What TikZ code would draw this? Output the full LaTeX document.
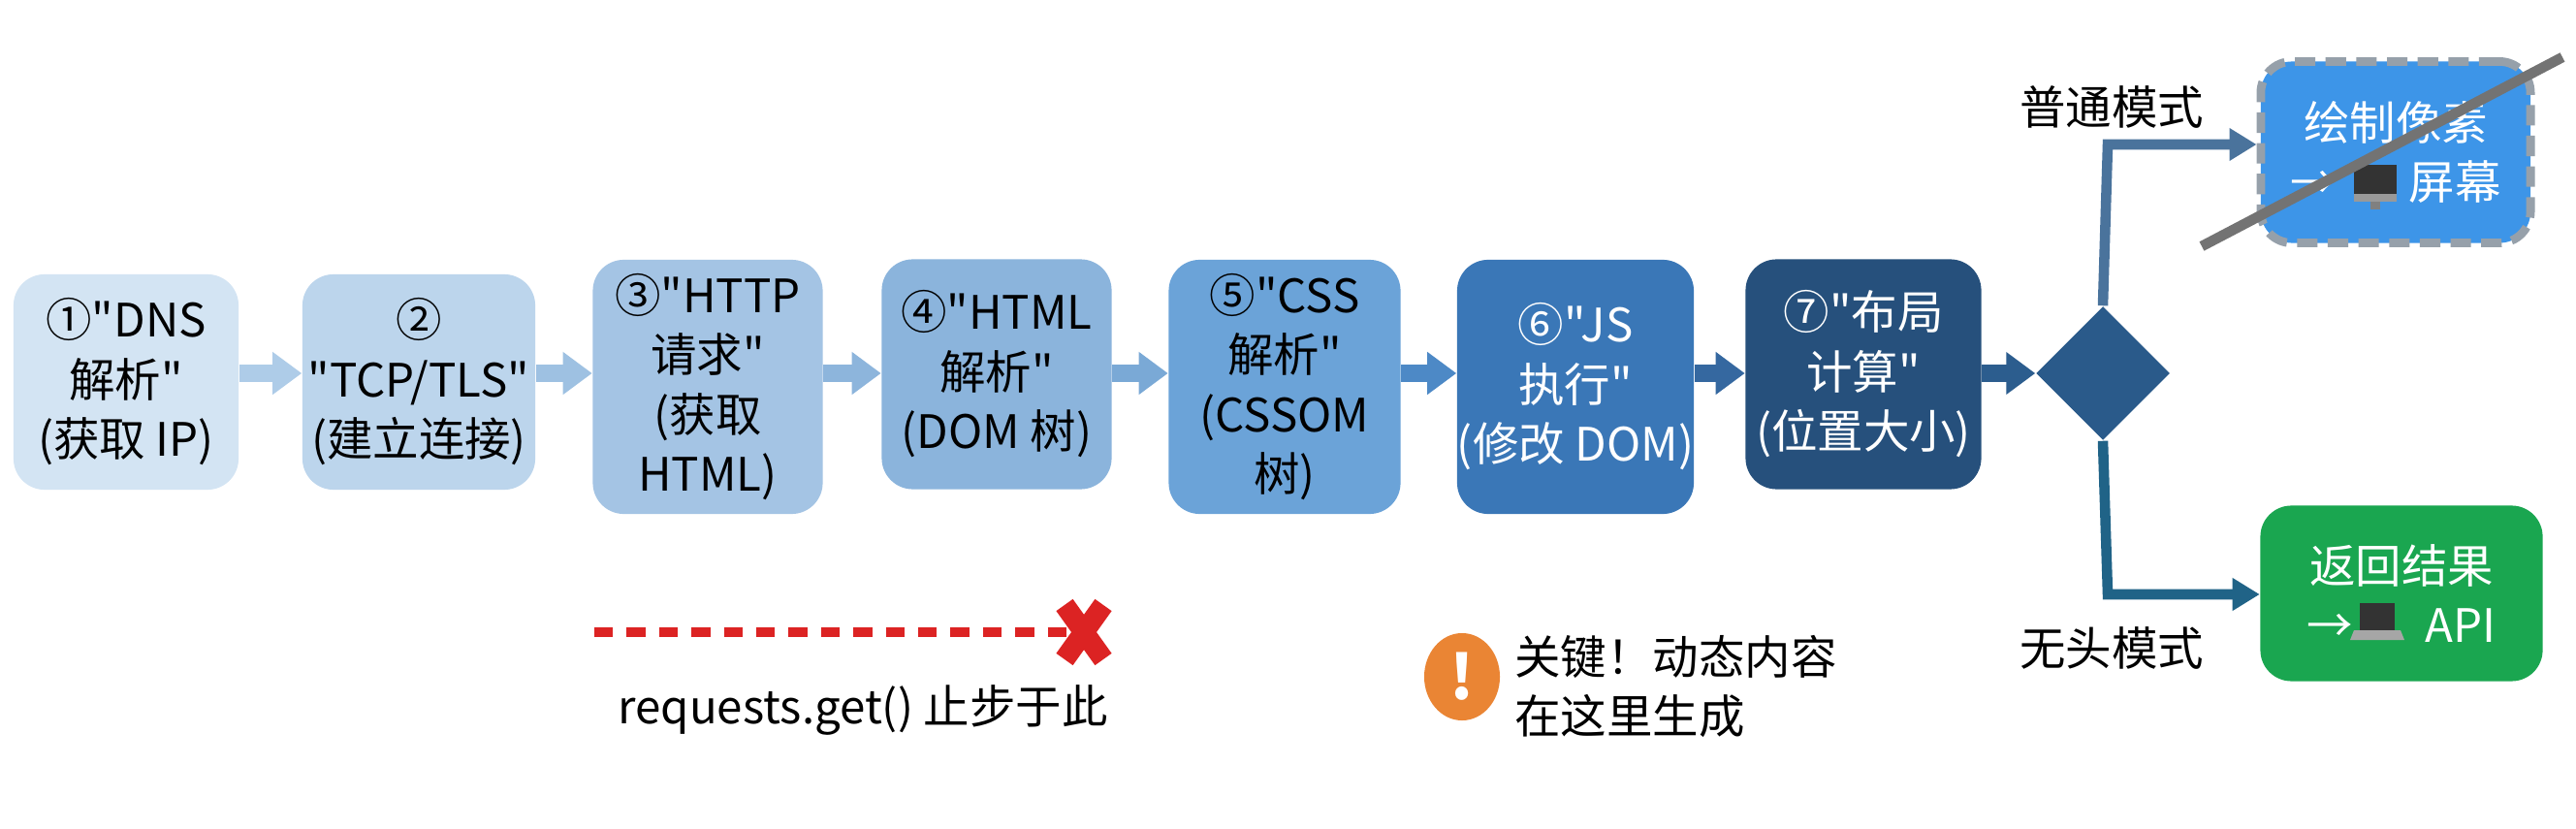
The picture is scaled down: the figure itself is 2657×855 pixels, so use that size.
\documentclass[tikz,border=0pt]{standalone}
\usepackage{fontspec}
\setmainfont{Noto Sans CJK SC}[Ligatures=TeXOff]
\usetikzlibrary{arrows.meta,shapes.geometric}
\definecolor{cA}{HTML}{D3E4F3}\definecolor{cB}{HTML}{BCD5EC}\definecolor{cC}{HTML}{A4C4E4}
\definecolor{cD}{HTML}{8BB4DC}\definecolor{cE}{HTML}{6BA3D8}\definecolor{cF}{HTML}{3A77B7}
\definecolor{cG}{HTML}{26507C}\definecolor{cH}{HTML}{2A5A8A}
\definecolor{aA}{HTML}{AECCE8}\definecolor{aB}{HTML}{9EC1E2}\definecolor{aC}{HTML}{8DB5DC}
\definecolor{aD}{HTML}{7AA9D6}\definecolor{aE}{HTML}{4D89C6}\definecolor{aF}{HTML}{3568A0}\definecolor{aG}{HTML}{2C5D8E}
\definecolor{topc}{RGB}{61,149,232}\definecolor{botc}{RGB}{26,166,80}
\definecolor{dashc}{RGB}{150,160,170}\definecolor{redc}{RGB}{220,35,35}
\definecolor{orc}{RGB}{234,133,52}
\begin{document}
\begin{tikzpicture}[x=0.01cm,y=-0.01cm,
  box/.style={rounded corners=0.32cm,align=center,font=\fontsize{13.5}{17.5}\selectfont,inner sep=0pt},
  arr/.style={line width=5pt,-{Triangle[length=0.3cm,width=0.42cm]}},
  br/.style={line width=3pt,color=#1,-{Triangle[length=0.28cm,width=0.32cm]}},
  lbl/.style={font=\fontsize{13.5}{17.5}\selectfont}]
\useasboundingbox (0,0) rectangle (2657,855);
\fill[white] (0,0) rectangle (2657,855);
\node[box,fill=cA,minimum width=2.32cm,minimum height=2.22cm] (b1) at (130,394) {①"DNS\\解析"\\(获取 IP)};
\node[box,fill=cB,minimum width=2.40cm,minimum height=2.22cm] (b2) at (432,394) {②\\"TCP/TLS"\\(建立连接)};
\node[box,fill=cC,minimum width=2.37cm,minimum height=2.62cm] (b3) at (730,399) {③"HTTP\\请求"\\(获取\\HTML)};
\node[box,fill=cD,minimum width=2.37cm,minimum height=2.37cm] (b4) at (1028,386) {④"HTML\\解析"\\(DOM 树)};
\node[box,fill=cE,minimum width=2.39cm,minimum height=2.62cm] (b5) at (1325,399) {⑤"CSS\\解析"\\(CSSOM\\树)};
\node[box,fill=cF,text=white,minimum width=2.40cm,minimum height=2.62cm] (b6) at (1625,399) {⑥"JS\\执行"\\(修改 DOM)};
\node[box,fill=cG,text=white,minimum width=2.43cm,minimum height=2.37cm] (b7) at (1922,386) {⑦"布局\\计算"\\(位置大小)};
\node[diamond,fill=cH,minimum width=1.38cm,minimum height=1.38cm,inner sep=0pt] (d) at (2169,385) {};
\draw[arr,aA] (b1.east|-0,385) -- (b2.west|-0,385);
\draw[arr,aB] (b2.east|-0,385) -- (b3.west|-0,385);
\draw[arr,aC] (b3.east|-0,385) -- (b4.west|-0,385);
\draw[arr,aD] (b4.east|-0,385) -- (b5.west|-0,385);
\draw[arr,aE] (b5.east|-0,385) -- (b6.west|-0,385);
\draw[arr,aF] (b6.east|-0,385) -- (b7.west|-0,385);
\draw[arr,aG] (b7.east|-0,385) -- (d.west);
\node[box,fill=topc,text=white,draw=dashc,dash pattern=on 6pt off 3pt,line width=2.5pt,minimum width=2.78cm,minimum height=1.87cm] (top) at (2471,157) {绘制像素\\→\hspace{0.75cm}屏幕};
\node[box,fill=botc,text=white,minimum width=2.91cm,minimum height=1.81cm] (bot) at (2477,612) {返回结果\\→\hspace{0.75cm}API};
\begin{scope}[shift={(2450,190)}]
\fill[black!80] (-22,-20) rectangle (22,10);
\fill[black!40] (-22,10) rectangle (22,18);
\fill[black!50] (-5,18) rectangle (5,26);
\end{scope}
\begin{scope}[shift={(2452,644)}]
\fill[black!80] (-18,-22) rectangle (18,6);
\fill[black!35] (-24,6) -- (24,6) -- (28,16) -- (-28,16) -- cycle;
\end{scope}
\coordinate (tk) at (2174,149);
\coordinate (bk) at (2174,613);
\draw[br=cH!85!white] (d.north) -- (tk) -- (top.west|-tk);
\draw[br=cH!75!teal] (d.south) -- (bk) -- (bot.west|-bk);
\draw[line width=3pt,black!55] (2271,254) -- (2643,59);
\node[lbl] (l1) at (2178,110) {普通模式};
\node[lbl] (l2) at (2178,669) {无头模式};
\coordinate (rs) at (613,652);
\coordinate (x) at (1118,652);
\draw[line width=3pt,redc,dash pattern=on 5.5pt off 4pt] (rs) -- (1100,652);
\draw[line width=6pt,redc] (1098,624) -- (1138,680) (1138,624) -- (1098,680);
\node[lbl] (rq) at (890,732) {requests.get() 止步于此};
\node[ellipse,fill=orc,minimum width=0.78cm,minimum height=0.9cm,inner sep=0pt,text=white,font=\fontsize{18}{18}\selectfont\bfseries] (w) at (1508,698) {!};
\node[lbl,anchor=west,align=left] (wt) at (1550,708) {关键！动态内容\\在这里生成};
\end{tikzpicture}
\end{document}
